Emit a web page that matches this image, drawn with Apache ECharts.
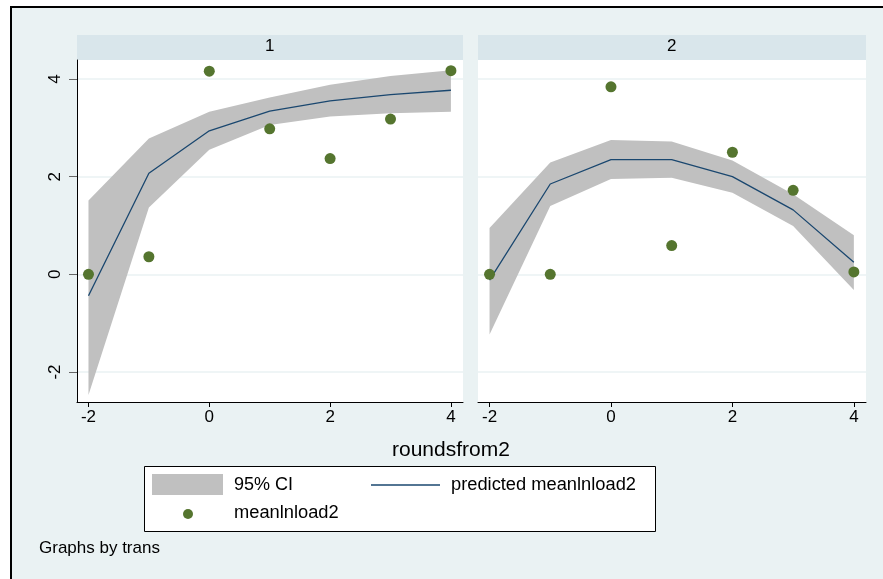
<!DOCTYPE html>
<html>
<head>
<meta charset="utf-8">
<script src="https://cdn.jsdelivr.net/npm/echarts@6/dist/echarts.min.js"></script>
<style>
  html, body { margin: 0; padding: 0; background: #fff; }
  #chart { width: 883px; height: 579px; }
</style>
</head>
<body>
<div id="chart"></div>
<script>
// x values (roundsfrom2) shared by both panels
var rounds = [-2, -1, 0, 1, 2, 3, 4];
var xTicks = [-2, 0, 2, 4];
var yTicks = [-2, 0, 2, 4];
var panelNames = ['1', '2'];

// trans = 1
var observed1 = [0, 0.36, 4.16, 2.98, 2.37, 3.18, 4.17];
var predicted1 = [-0.44, 2.07, 2.94, 3.34, 3.55, 3.68, 3.77];
var ciLower1 = [-2.47, 1.37, 2.55, 3.06, 3.23, 3.30, 3.33];
var ciUpper1 = [1.51, 2.78, 3.33, 3.62, 3.88, 4.06, 4.18];

// trans = 2
var observed2 = [0, 0, 3.84, 0.59, 2.50, 1.72, 0.05];
var predicted2 = [-0.12, 1.85, 2.35, 2.35, 2.00, 1.32, 0.25];
var ciLower2 = [-1.23, 1.40, 1.95, 1.98, 1.67, 0.99, -0.32];
var ciUpper2 = [0.95, 2.29, 2.75, 2.72, 2.33, 1.64, 0.80];

var bgColor = '#EAF2F3';
var stripColor = '#D9E6EB';
var ciColor = '#C0C0C0';
var lineColor = '#1A476F';
var dotColor = '#55752F';
var font = 'Liberation Sans, Arial, sans-serif';

function pairs(ys) {
    return rounds.map(function (x, i) { return [x, ys[i]]; });
}

// the CI band as one polygon: along the upper bound, back along the lower bound
function bandRenderer(lo, hi) {
    return function (params, api) {
        if (params.dataIndex !== 0) return;
        var pts = [];
        var i;
        for (i = 0; i < rounds.length; i++) pts.push(api.coord([rounds[i], hi[i]]));
        for (i = rounds.length - 1; i >= 0; i--) pts.push(api.coord([rounds[i], lo[i]]));
        return {
            type: 'polygon',
            shape: { points: pts },
            style: { fill: ciColor }
        };
    };
}

function panelSeries(idx, lo, hi, pred, obs) {
    return [
        {
            name: '95% CI', type: 'custom', xAxisIndex: idx, yAxisIndex: idx,
            data: rounds.map(function (x, i) { return [x, lo[i], hi[i]]; }),
            encode: { x: 0, y: [1, 2] },
            renderItem: bandRenderer(lo, hi), silent: true, z: 1
        },
        {
            name: 'predicted meanlnload2', type: 'line', xAxisIndex: idx, yAxisIndex: idx,
            data: pairs(pred), symbol: 'none',
            lineStyle: { color: lineColor, width: 1.3 }, itemStyle: { color: lineColor }, z: 2
        },
        {
            name: 'meanlnload2', type: 'scatter', xAxisIndex: idx, yAxisIndex: idx,
            data: pairs(obs), symbolSize: 11, itemStyle: { color: dotColor, opacity: 1 }, z: 3
        }
    ];
}

function xAxisFor(idx) {
    return {
        type: 'value', gridIndex: idx, min: -2.19, max: 4.2,
        axisLine: { show: true, onZero: false, lineStyle: { color: '#000', width: 1 } },
        axisTick: { show: true, length: 5, customValues: xTicks, lineStyle: { color: '#000' } },
        axisLabel: { customValues: xTicks, color: '#000', fontSize: 17, fontFamily: font, margin: 7 },
        splitLine: { show: false }
    };
}

function yAxisFor(idx) {
    var first = idx === 0;
    return {
        type: 'value', gridIndex: idx, min: -2.614, max: 4.389,
        axisLine: { show: first, onZero: false, lineStyle: { color: '#000', width: 1 } },
        axisTick: { show: first, length: 8, customValues: yTicks, lineStyle: { color: '#666' } },
        axisLabel: { show: first, customValues: yTicks, rotate: 90, color: '#000', fontSize: 17, fontFamily: font, margin: 13 },
        splitLine: { show: true, lineStyle: { color: bgColor, width: 1.5 } }
    };
}

var chart = echarts.init(document.getElementById('chart'));

chart.setOption({
    backgroundColor: bgColor,
    animation: false,
    grid: [
        { left: 77, top: 60, width: 386, height: 342, show: true, backgroundColor: '#fff', borderWidth: 0 },
        { left: 478, top: 60, width: 388, height: 342, show: true, backgroundColor: '#fff', borderWidth: 0 }
    ],
    xAxis: [xAxisFor(0), xAxisFor(1)],
    yAxis: [yAxisFor(0), yAxisFor(1)],
    graphic: [
        // white margin outside the frame, and the frame itself
        { type: 'rect', z: 100, shape: { x: 0, y: 0, width: 883, height: 6 }, style: { fill: '#fff' } },
        { type: 'rect', z: 100, shape: { x: 0, y: 0, width: 10, height: 579 }, style: { fill: '#fff' } },
        { type: 'polyline', z: 101, shape: { points: [[11, 579], [11, 7], [883, 7]] },
          style: { stroke: '#000', lineWidth: 2, fill: null } },
        // strips
        { type: 'rect', shape: { x: 77, y: 35, width: 386, height: 25 }, style: { fill: stripColor } },
        { type: 'rect', shape: { x: 478, y: 35, width: 388, height: 25 }, style: { fill: stripColor } },
        { type: 'text', left: 265, top: 38, style: { text: panelNames[0], fontSize: 17, fontFamily: font, fill: '#000' } },
        { type: 'text', left: 667, top: 38, style: { text: panelNames[1], fontSize: 17, fontFamily: font, fill: '#000' } },
        // x axis title
        { type: 'text', left: 392, top: 440, style: { text: 'roundsfrom2', fontSize: 21, fontFamily: font, fill: '#000' } },
        // legend box
        { type: 'rect', shape: { x: 144.5, y: 466.5, width: 511, height: 65 }, style: { fill: '#fff', stroke: '#000', lineWidth: 1 } },
        { type: 'rect', shape: { x: 152, y: 474, width: 71, height: 21 }, style: { fill: ciColor } },
        { type: 'text', left: 234, top: 476, style: { text: '95% CI', fontSize: 18, fontFamily: font, fill: '#000' } },
        { type: 'line', shape: { x1: 371, y1: 485, x2: 440, y2: 485 }, style: { stroke: lineColor, lineWidth: 1.3 } },
        { type: 'text', left: 451, top: 476, style: { text: 'predicted meanlnload2', fontSize: 18.3, fontFamily: font, fill: '#000' } },
        { type: 'circle', shape: { cx: 188, cy: 514, r: 5 }, style: { fill: dotColor } },
        { type: 'text', left: 234, top: 504, style: { text: 'meanlnload2', fontSize: 18.3, fontFamily: font, fill: '#000' } },
        // note
        { type: 'text', left: 39, top: 540, style: { text: 'Graphs by trans', fontSize: 17, fontFamily: font, fill: '#000' } }
    ],
    series: panelSeries(0, ciLower1, ciUpper1, predicted1, observed1)
        .concat(panelSeries(1, ciLower2, ciUpper2, predicted2, observed2))
});
</script>
</body>
</html>
